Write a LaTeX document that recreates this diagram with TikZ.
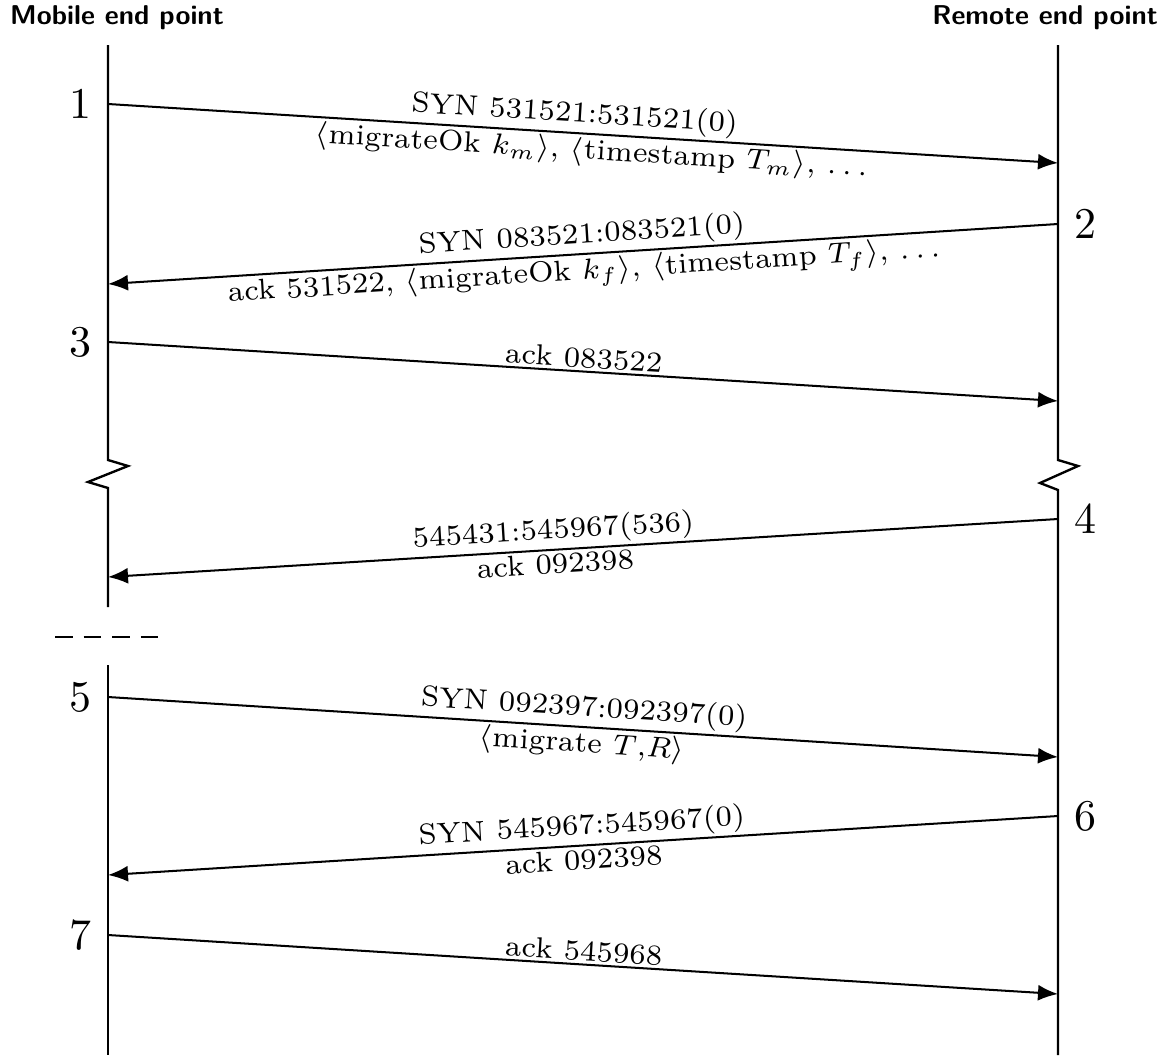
\documentclass[tikz,border=0pt]{standalone}
\usepackage{amsmath}
\usepackage{graphicx}
\usepackage{tikz}
\usetikzlibrary{arrows.meta}

\newcommand{\msgtxt}[1]{\scalebox{2.35}{\fontsize{7}{8.4}\selectfont #1}}
\newcommand{\stepnum}[1]{\scalebox{2.5}{\fontsize{10}{12}\selectfont #1}}

\tikzset{
  msg/.style={line width=1.15pt,-{Latex[length=0.4cm,width=0.32cm]}},
  life/.style={line width=1.35pt},
  lbl/.style={sloped,inner sep=1.5pt},
  stepno/.style={inner sep=9pt},
  head/.style={font=\fontsize{15.5}{18}\selectfont\sffamily\bfseries}
}

\begin{document}
\begin{tikzpicture}[x=0.02cm,y=-0.02cm]
  \useasboundingbox (0,0) rectangle (1169,1055);
  \node[head,anchor=west] (mob) at (4,18) {Mobile end point};
  \node[head,anchor=east] (rem) at (1164,18) {Remote end point};
  % lifelines
  \draw[life] (108,45)--(108,460)--(128,466)--(88,482)--(108,488)--(108,607);
  \draw[life] (108,665)--(108,1055);
  \draw[life] (1058,45)--(1058,460)--(1078,466)--(1040,483)--(1058,490)--(1058,1055);
  \draw[life,dash pattern=on 10pt off 6.3pt] (55,637)--(165,637);
  % message ends
  \coordinate (m1) at (108,104);  \coordinate (r1) at (1058,163);
  \coordinate (r2) at (1058,224); \coordinate (m2) at (108,284);
  \coordinate (m3) at (108,342);  \coordinate (r3) at (1058,401);
  \coordinate (r4) at (1058,519); \coordinate (m4) at (108,577);
  \coordinate (m5) at (108,697);  \coordinate (r5) at (1058,757);
  \coordinate (r6) at (1058,816); \coordinate (m6) at (108,875);
  \coordinate (m7) at (108,935);  \coordinate (r7) at (1058,994);
  \node[stepno,left] (n1) at (m1) {\stepnum{1}};
  \node[stepno,right] (n2) at (r2) {\stepnum{2}};
  \node[stepno,left] (n3) at (m3) {\stepnum{3}};
  \node[stepno,right] (n4) at (r4) {\stepnum{4}};
  \node[stepno,left] (n5) at (m5) {\stepnum{5}};
  \node[stepno,right] (n6) at (r6) {\stepnum{6}};
  \node[stepno,left] (n7) at (m7) {\stepnum{7}};
  % messages
  \draw[msg] (m1)--(r1)
    node[lbl,pos=0.49,above] {\msgtxt{SYN 531521:531521(0)}}
    node[lbl,pos=0.51,below] {\msgtxt{$\langle$migrateOk $k_m\rangle$, $\langle$timestamp $T_m\rangle$, $\ldots$}};
  \draw[msg] (r2)--(m2)
    node[lbl,midway,above] {\msgtxt{SYN 083521:083521(0)}}
    node[lbl,midway,below] {\msgtxt{ack 531522, $\langle$migrateOk $k_f\rangle$, $\langle$timestamp $T_f\rangle$, $\ldots$}};
  \draw[msg] (m3)--(r3) node[lbl,midway,above] {\msgtxt{ack 083522}};
  \draw[msg] (r4)--(m4)
    node[lbl,pos=0.53,above] {\msgtxt{545431:545967(536)}}
    node[lbl,pos=0.53,below] {\msgtxt{ack 092398}};
  \draw[msg] (m5)--(r5)
    node[lbl,midway,above] {\msgtxt{SYN 092397:092397(0)}}
    node[lbl,midway,below] {\msgtxt{$\langle$migrate $T$,$R\rangle$}};
  \draw[msg] (r6)--(m6)
    node[lbl,midway,above] {\msgtxt{SYN 545967:545967(0)}}
    node[lbl,midway,below] {\msgtxt{ack 092398}};
  \draw[msg] (m7)--(r7) node[lbl,midway,above] {\msgtxt{ack 545968}};
\end{tikzpicture}
\end{document}
